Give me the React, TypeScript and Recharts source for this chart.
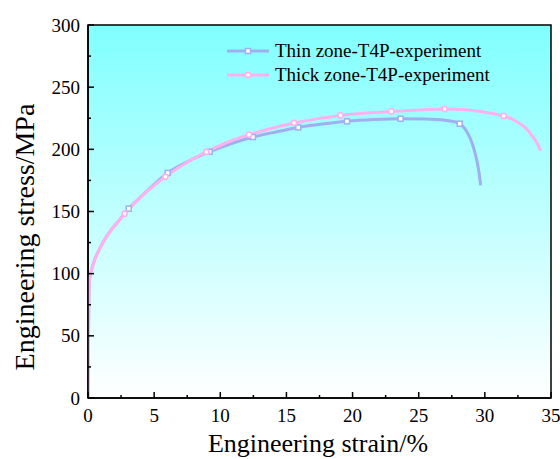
import React from "react";
import { ComposedChart, Line, Scatter, XAxis, YAxis, ReferenceArea, Legend } from "recharts";

// Thin zone curve (strain %, stress MPa)
const thinStrain = [0, 0.05, 0.1, 0.15, 0.25, 0.4, 0.7, 1.1, 1.6, 2.2, 3.08, 4.5, 6.02, 7.5, 9.2, 10.8, 12.47, 14.2, 15.9, 17.7, 19.58, 21.6, 23.63, 25.5, 27, 27.6, 28.1, 28.45, 28.75, 29.05, 29.35, 29.55, 29.68];
const thinStress = [0, 65, 93, 98, 102, 108, 116, 124.5, 133, 141, 152.3, 166.8, 181, 190, 198.1, 204.5, 209.9, 214, 217.6, 220.3, 222.5, 223.9, 224.6, 224.4, 223.4, 222.4, 220.6, 217, 212, 204.5, 193, 182, 171];

// Thick zone curve
const thickStrain = [0, 0.05, 0.1, 0.15, 0.25, 0.4, 0.7, 1.1, 1.6, 2.2, 2.77, 4.3, 5.85, 7.4, 8.95, 10.5, 12.17, 13.9, 15.57, 17.3, 19.08, 21, 22.93, 25, 26.96, 28.5, 30, 31.42, 32.3, 33, 33.6, 34, 34.2];
const thickStress = [0, 65, 93, 98, 102, 108, 116, 124.5, 133, 141, 148.2, 164.7, 178, 189, 197.9, 205.5, 211.8, 217, 221.2, 224.5, 227.3, 229.2, 230.5, 231.7, 232.4, 231.8, 229.8, 226.9, 223, 218, 210.5, 204, 199];

// symbol positions
const thinMarkStrain = [3.08, 6.02, 9.2, 12.47, 15.9, 19.58, 23.63, 28.1];
const thinMarkStress = [152.3, 181, 198.1, 209.9, 217.6, 222.5, 224.6, 220.6];
const thickMarkStrain = [2.77, 5.85, 8.95, 12.17, 15.57, 19.08, 22.93, 26.96, 31.42];
const thickMarkStress = [148.2, 178, 197.9, 211.8, 221.2, 227.3, 230.5, 232.4, 226.9];

const xTicks = [0, 2.5, 5, 7.5, 10, 12.5, 15, 17.5, 20, 22.5, 25, 27.5, 30, 32.5, 35];
const yTicks = [0, 25, 50, 75, 100, 125, 150, 175, 200, 225, 250, 275, 300];

const seriesNames = ["Thin zone-T4P-experiment", "Thick zone-T4P-experiment"];

const THIN = "#a0aff0";
const THICK = "#ffb0ee";
const FONT = "'Liberation Serif', 'Times New Roman', serif";

const zip = (xs: number[], ys: number[]) => xs.map((x, i) => ({ x, y: ys[i] }));

const thinData = zip(thinStrain, thinStress);
const thickData = zip(thickStrain, thickStress);
const thinMarks = zip(thinMarkStrain, thinMarkStress);
const thickMarks = zip(thickMarkStrain, thickMarkStress);

const XTick = (props: any) => {
  const { x, y, payload } = props;
  const major = payload.value % 5 === 0;
  return (
    <g>
      <line x1={x} x2={x} y1={y} y2={y - (major ? 6 : 3)} stroke="#000" strokeWidth={1.5} />
      {major && (
        <text x={x} y={y + 24} textAnchor="middle" fontSize={19} fontFamily={FONT} fill="#000">
          {payload.value}
        </text>
      )}
    </g>
  );
};

const YTick = (props: any) => {
  const { x, y, payload } = props;
  const major = payload.value % 50 === 0;
  return (
    <g>
      <line x1={x} x2={x + (major ? 6 : 3)} y1={y} y2={y} stroke="#000" strokeWidth={1.5} />
      {major && (
        <text x={x - 8} y={y} dy="0.35em" textAnchor="end" fontSize={19} fontFamily={FONT} fill="#000">
          {payload.value}
        </text>
      )}
    </g>
  );
};

const Square = (props: any) => (
  <rect x={props.cx - 2.5} y={props.cy - 2.5} width={5} height={5} fill="#fff" stroke={THIN} strokeWidth={1.5} />
);
const Circle = (props: any) => (
  <circle cx={props.cx} cy={props.cy} r={2.6} fill="#fff" stroke={THICK} strokeWidth={1.6} />
);

const LegendBox = () => (
  <div style={{ fontFamily: FONT, fontSize: 19, color: "#000" }}>
    {seriesNames.map((name, i) => (
      <div key={name} style={{ display: "flex", alignItems: "center", height: 24 }}>
        <svg width={50} height={24}>
          <line x1={2} x2={44} y1={12} y2={12} stroke={i === 0 ? THIN : THICK} strokeWidth={3} />
          {i === 0 ? <Square cx={23} cy={12} /> : <Circle cx={23} cy={12} />}
        </svg>
        <span style={{ whiteSpace: "nowrap" }}>{name}</span>
      </div>
    ))}
  </div>
);

export default function App() {
  return (
    <div style={{ position: "absolute", left: 0, top: 0, background: "#fff" }}>
      <ComposedChart width={560} height={459} margin={{ top: 25, right: 9, bottom: 0, left: 0 }}>
        <defs>
          <linearGradient id="bgGrad" x1="0" y1="0" x2="0" y2="1">
            <stop offset="0%" stopColor="#80ffff" />
            <stop offset="100%" stopColor="#ffffff" />
          </linearGradient>
        </defs>
        <XAxis
          dataKey="x"
          type="number"
          domain={[0, 35]}
          ticks={xTicks}
          interval={0}
          height={61}
          tickSize={0}
          tickMargin={0}
          tickLine={false}
          tick={<XTick />}
          axisLine={{ stroke: "#000", strokeWidth: 1.5 }}
          allowDataOverflow
          label={{
            content: () => (
              <text x={318} y={452} textAnchor="middle" fontSize={26} fontFamily={FONT} fill="#000">
                Engineering strain/%
              </text>
            ),
          }}
        />
        <YAxis
          type="number"
          domain={[0, 300]}
          ticks={yTicks}
          interval={0}
          width={88}
          tickSize={0}
          tickMargin={0}
          tickLine={false}
          tick={<YTick />}
          axisLine={{ stroke: "#000", strokeWidth: 1.5 }}
          allowDataOverflow
          label={{
            content: () => (
              <text
                x={34}
                y={237}
                transform="rotate(-90 34 237)"
                textAnchor="middle"
                fontSize={28}
                fontFamily={FONT}
                fill="#000"
              >
                Engineering stress/MPa
              </text>
            ),
          }}
        />
        <ReferenceArea x1={0} x2={35} y1={0} y2={300} fill="url(#bgGrad)" fillOpacity={1} stroke="#000" strokeWidth={1.5} />
        <Line data={thinData} dataKey="y" type="monotone" stroke={THIN} strokeWidth={3} dot={false} isAnimationActive={false} />
        <Scatter data={thinMarks} dataKey="y" shape={<Square />} isAnimationActive={false} />
        <Line data={thickData} dataKey="y" type="monotone" stroke={THICK} strokeWidth={3} dot={false} isAnimationActive={false} />
        <Scatter data={thickMarks} dataKey="y" shape={<Circle />} isAnimationActive={false} />
        <Legend
          layout="vertical"
          align="center"
          verticalAlign="middle"
          content={<LegendBox />}
          wrapperStyle={{ top: 39, left: 225, width: "auto", bottom: "auto", right: "auto" }}
        />
      </ComposedChart>
    </div>
  );
}
